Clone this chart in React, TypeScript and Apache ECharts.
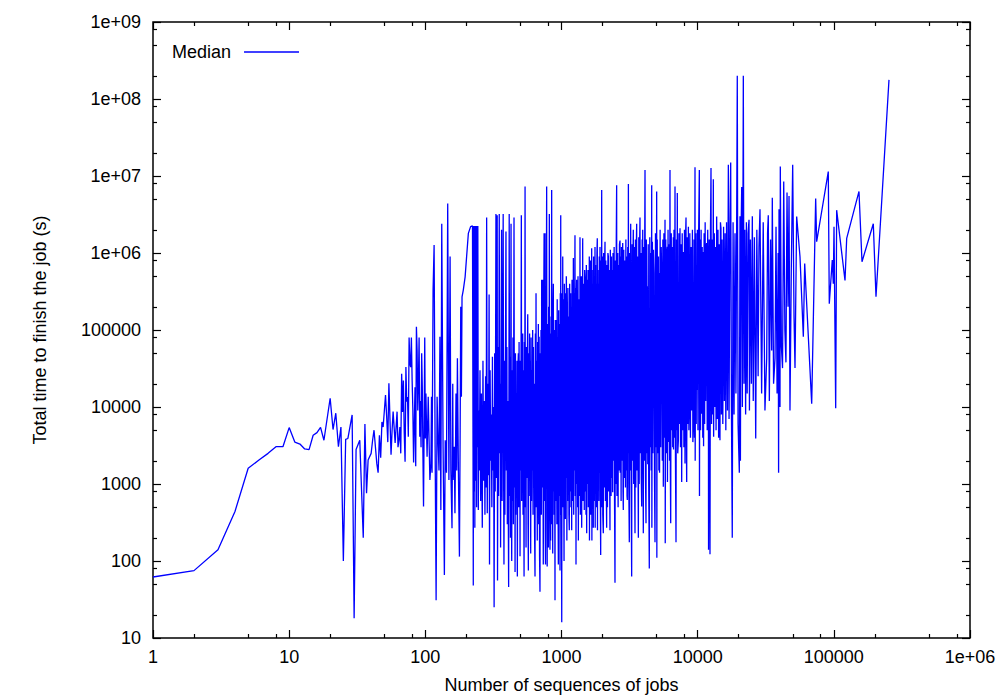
import React, { useEffect, useRef } from 'react';
import * as echarts from 'echarts';

const seriesName = 'Median';
const xAxisTitle = 'Number of sequences of jobs';
const yAxisTitle = 'Total time to finish the job (s)';

const xMajorTicks = [1, 10, 100, 1000, 10000, 100000, 1000000];
const xTickLabels = ['1', '10', '100', '1000', '10000', '100000', '1e+06'];
const yMajorTicks = [10, 100, 1000, 10000, 100000, 1000000, 10000000, 100000000, 1000000000];
const yTickLabels = ['10', '100', '1000', '10000', '100000', '1e+06', '1e+07', '1e+08', '1e+09'];
const minorFactors = [2, 5, 8];

// [number of sequences, median total time (s)]
const segA: number[][] = [
  [1, 62], [2, 75], [3, 140], [4, 440], [5, 1600], [6, 2050], [7, 2500], [8, 3050], [9, 3050], [10, 5400],
  [11, 3500], [12, 3300], [13, 2850], [14, 2800], [15, 4300], [16, 4650], [17, 5450], [18, 3700], [20, 13000],
  [21, 5100], [22, 8300], [23, 3050], [24, 5500], [25, 100], [26, 3800], [27, 3900], [29, 7900], [30, 18],
  [31, 2800], [33, 3700], [35, 200], [36, 6000], [37, 760], [38, 2050], [40, 2500], [41, 3700], [42, 5000],
  [44, 1850], [45, 1400], [46, 4300], [47, 2200], [48, 6400], [49, 5500], [51, 14300], [52, 7500], [53, 3500],
  [54, 20300], [56, 2400], [57, 5000], [58, 8700], [60, 3400], [62, 8700], [63, 3000], [64, 3700], [65, 5500],
  [66, 2500], [67, 27000], [68, 8600], [69, 22000], [70, 4600], [71, 1950], [72, 33000], [73, 11700], [74, 13500],
  [75, 4100], [76, 80000], [77, 37000], [78, 33000], [79, 80000], [80, 22000], [81, 9000], [82, 1900], [83, 6000],
  [84, 18000], [85, 1700], [86, 110000], [87, 55000], [88, 9000], [89, 22000], [90, 80000], [91, 4100], [92, 12000],
  [93, 3000], [94, 50000], [95, 18000], [96, 2500], [97, 510], [98, 6000], [99, 80000], [100, 3900],
];

const segB: number[][] = [
  [101, 15000], [103, 2260], [105, 13600], [107, 2500], [108, 1130], [110, 1850], [111, 13600], [112, 1400],
  [114, 330000], [116, 1270000], [118, 3000], [120, 31], [122, 13600], [124, 3700], [126, 1500], [128, 82000],
  [130, 460], [132, 2400000], [135, 3050], [138, 66], [140, 3700], [143, 1400], [146, 4400000], [149, 1130],
  [152, 900000], [154, 1500], [157, 266], [159, 20000], [160, 1130], [163, 3050], [165, 417], [168, 15000],
  [170, 1500], [172, 43000], [175, 1400], [178, 114], [180, 3500], [182, 200000], [184, 13600], [186, 270000],
  [190, 330000], [196, 490000], [201, 900000], [207, 1800000], [215, 2200000], [222, 2250000], [224, 3000],
  [225, 48], [226, 2250000], [227, 1500], [228, 2250000], [229, 800], [230, 2250000], [231, 270], [232, 2250000],
  [234, 2000], [235, 2250000], [236, 1100], [237, 2250000], [238, 500], [240, 2250000], [241, 3000],
];

const segC1: number[][] = [
  [243, 2250000], [245, 460], [247, 9000], [249, 1500], [252, 30000], [255, 600], [258, 15000], [262, 270],
  [265, 40000], [268, 1100], [271, 12000], [274, 400], [277, 25000], [280, 900], [282, 2900000], [285, 417],
  [288, 20000], [291, 1300], [294, 290000], [296, 90], [299, 30000], [302, 2000], [305, 8000], [308, 500],
  [311, 45000], [314, 1500], [317, 10000], [320, 25], [323, 50000], [326, 800], [330, 3200000], [333, 1200],
  [337, 3100000], [339, 56], [342, 60000], [345, 700], [349, 3200000], [352, 2500], [355, 20000], [357, 150],
  [360, 35000], [363, 2000000], [366, 600], [369, 15000], [373, 3200000], [376, 1000], [378, 90], [381, 40000],
  [384, 400], [387, 25000], [391, 1900000], [394, 1500], [397, 60000], [400, 300], [403, 12000], [406, 800],
  [409, 46], [413, 3200000], [416, 700], [419, 45000], [422, 200], [426, 2400000], [428, 1200], [431, 100],
  [434, 30000], [437, 600], [440, 80000], [443, 300], [448, 2900000], [451, 900], [454, 20000], [456, 72],
  [459, 50000], [462, 400], [465, 15000], [468, 700], [471, 40000], [474, 63], [478, 30000], [482, 50000],
  [485, 500], [488, 70000], [491, 1500], [494, 25000], [496, 115], [499, 40000],
];

const segC2: number[][] = [
  [503, 1500], [507, 3100000], [510, 600], [513, 50000], [516, 2000], [519, 90000], [522, 400], [525, 30000],
  [528, 1000], [531, 63], [534, 70000], [537, 800], [540, 7300000], [543, 500], [546, 40000], [549, 150],
  [552, 60000], [556, 1200], [560, 25000], [565, 160000], [568, 300], [571, 75], [575, 50000], [579, 700],
  [583, 90000], [587, 2000], [590, 40000], [594, 125], [598, 80000], [602, 600], [606, 30000], [610, 1500],
  [614, 100000], [618, 400], [622, 60000], [626, 900], [630, 20000], [634, 250], [639, 63], [643, 90000],
  [647, 1000], [650, 300000], [654, 500], [658, 40000], [661, 1800], [664, 185], [668, 70000], [672, 700],
  [676, 120000], [680, 300], [685, 82000], [690, 115], [695, 40], [699, 50000], [703, 1500], [707, 100000],
  [711, 400], [715, 450000], [719, 900], [723, 60000], [728, 450000], [731, 2000], [735, 90], [740, 150000],
  [745, 1800000], [749, 600], [753, 80000], [757, 1800000], [760, 250], [763, 90], [767, 40000], [771, 1200],
  [774, 200000], [778, 7300000], [782, 400], [785, 85], [789, 120000], [793, 800], [797, 50000], [801, 150],
  [805, 200000], [810, 1500], [814, 3200000], [818, 500], [823, 140], [827, 90000], [830, 700], [833, 185],
  [838, 150000], [842, 1000], [847, 6600000], [851, 300], [856, 60000], [862, 125], [866, 200000], [871, 400000],
  [875, 800], [880, 100000], [884, 400], [889, 50000], [892, 1500], [896, 31], [900, 135000], [905, 600],
  [911, 135000], [915, 2000], [920, 70000], [925, 300], [930, 250000], [935, 1200], [940, 80000], [944, 500],
  [948, 90], [953, 180000], [957, 700], [962, 120000], [966, 1500], [970, 60000], [975, 75], [980, 300000],
  [984, 400], [987, 3100000], [991, 1000], [995, 200000], [999, 600],
];

const segC3: number[][] = [
  [1004, 16], [1010, 300000], [1016, 800], [1021, 900000], [1027, 500], [1033, 250000], [1038, 1500], [1044, 100],
  [1050, 400000], [1055, 700], [1061, 145000], [1067, 350], [1073, 300000], [1079, 1200], [1085, 500000],
  [1092, 170000], [1095, 185], [1101, 200000], [1108, 600], [1115, 350000], [1121, 900], [1128, 150000],
  [1134, 400], [1141, 250], [1148, 400000], [1154, 55000], [1160, 800], [1167, 300000], [1174, 500],
  [1181, 200000], [1188, 250], [1195, 450000], [1202, 1000], [1209, 250000], [1215, 600], [1222, 860000],
  [1229, 400], [1236, 300000], [1243, 1500], [1250, 200000], [1256, 1700000], [1263, 700], [1270, 350000],
  [1278, 90], [1285, 250000], [1292, 450000], [1299, 1000], [1307, 300000], [1314, 500], [1322, 500000],
  [1330, 185], [1338, 250000], [1345, 800], [1352, 150000], [1360, 700], [1367, 1600000], [1375, 400],
  [1383, 300000], [1391, 1200], [1399, 500000], [1407, 270], [1415, 350000], [1423, 900], [1431, 1550000],
  [1439, 600], [1447, 400000], [1455, 1500], [1463, 250000], [1470, 460], [1479, 600000], [1488, 490000],
  [1496, 800], [1505, 300000], [1513, 400], [1522, 700000], [1531, 230], [1539, 350000], [1547, 450000],
  [1556, 1000], [1565, 600000], [1574, 500], [1583, 300000], [1591, 1200], [1600, 900000], [1605, 185],
  [1614, 500000], [1623, 700], [1632, 800000], [1641, 400], [1650, 350000], [1659, 1500], [1666, 1150000],
  [1672, 185], [1681, 600000], [1690, 900], [1700, 400000], [1712, 270], [1721, 900000], [1731, 600],
  [1741, 500000], [1751, 1300], [1762, 1200000], [1768, 270], [1778, 700000], [1788, 800], [1799, 400000],
  [1810, 500], [1821, 1000000], [1832, 1550000], [1838, 250], [1849, 600000], [1860, 1000], [1871, 400000],
  [1882, 600], [1894, 900000], [1905, 1400], [1917, 1200000], [1928, 700], [1940, 120], [1952, 800000],
  [1962, 1000], [1973, 6600000], [1985, 500],
];

const segC4: number[][] = [
  [1997, 900000], [2010, 400], [2028, 230], [2040, 1000000], [2055, 900], [2070, 500000], [2087, 1400000],
  [2100, 600], [2115, 800000], [2130, 1200], [2146, 270], [2160, 700000], [2175, 500], [2192, 1000000],
  [2209, 900000], [2225, 800], [2240, 600000], [2255, 1500], [2270, 250], [2284, 1100000], [2297, 270000],
  [2312, 700], [2328, 900000], [2344, 1200], [2360, 600000], [2376, 780], [2390, 1000000], [2401, 490000],
  [2418, 2000], [2435, 1200000], [2452, 600], [2471, 52], [2490, 800000], [2508, 1000], [2525, 1500000],
  [2541, 7600000], [2555, 700], [2569, 920], [2588, 1000000], [2605, 500], [2625, 700000], [2645, 1500],
  [2665, 1300000], [2689, 1450000], [2700, 1400], [2720, 900000], [2740, 600], [2760, 1200000], [2780, 2000],
  [2800, 700000], [2815, 1350000], [2830, 800], [2844, 460], [2865, 1100000], [2885, 1200], [2905, 800000],
  [2927, 450000], [2948, 900], [2970, 1500000], [2990, 1500], [3012, 900000], [3030, 700], [3043, 620],
  [3065, 1200000], [3085, 2500], [3099, 7900000], [3120, 1000], [3148, 175], [3170, 1000000], [3195, 1500],
  [3222, 2400000], [3250, 800], [3276, 63], [3300, 1300000], [3325, 2000], [3350, 900000], [3368, 2000000],
  [3390, 1000], [3415, 1200000], [3440, 1800], [3466, 230], [3490, 1500000], [3515, 900], [3540, 1000000],
  [3565, 2400000], [3590, 1500], [3615, 900000], [3645, 2000], [3669, 200], [3695, 1600000], [3720, 1000],
  [3745, 1200000], [3771, 2900000], [3800, 2500], [3830, 1000000], [3855, 1200], [3880, 510], [3910, 1500000],
  [3930, 3000], [3948, 2000000], [3970, 1500], [3989, 230], [4020, 1200000], [4050, 2000], [4080, 900000],
  [4105, 12000000], [4140, 1200], [4175, 310], [4200, 1500000], [4235, 2500], [4267, 370000], [4300, 1800],
  [4335, 1300000], [4370, 1000], [4414, 80], [4450, 1600000], [4490, 3000], [4525, 1000000], [4560, 1500],
  [4596, 7600000], [4610, 270], [4650, 1400000], [4690, 2500], [4735, 1100000], [4780, 550000], [4820, 1200],
  [4861, 175], [4900, 1800000], [4950, 3000], [5000, 6300000], [5015, 110],
];

const segC5: number[][] = [
  [5050, 1500000], [5100, 2500], [5150, 900000], [5190, 1500], [5231, 550000], [5250, 1400], [5300, 2000000],
  [5350, 3000], [5400, 1200000], [5443, 520000], [5500, 2000], [5550, 1500000], [5594, 920], [5650, 1800000],
  [5700, 4000], [5757, 2700000], [5780, 170], [5830, 1500000], [5880, 2500], [5935, 1000000], [5985, 1200000],
  [6000, 1060], [6060, 2000000], [6110, 3500], [6160, 1300000], [6210, 2000], [6263, 12000000], [6300, 1500],
  [6338, 310], [6400, 1800000], [6450, 5000], [6500, 1200000], [6560, 3000], [6624, 1600000], [6650, 2800],
  [6700, 2000000], [6760, 4000], [6817, 7300000], [6870, 2000], [6934, 175], [6990, 1500000], [7040, 5000],
  [7087, 6000000], [7140, 2500], [7217, 3700], [7280, 1800000], [7340, 6000], [7418, 2100000], [7480, 3000],
  [7550, 1300000], [7633, 1060], [7700, 1800000], [7770, 5000], [7846, 1030000], [7920, 3000], [8000, 2000000],
  [8075, 1850], [8140, 1500000], [8212, 2900000], [8260, 4000], [8305, 1060], [8380, 1600000], [8460, 6000],
  [8548, 2200000], [8620, 5000], [8683, 12000], [8760, 1800000], [8850, 4000], [8950, 1200000], [9038, 860000],
  [9060, 9000], [9150, 2000000], [9220, 3500], [9290, 5600], [9400, 1500000], [9480, 4000], [9560, 13000000],
  [9590, 2000], [9700, 1800000], [9760, 6000], [9833, 660000], [9860, 16600], [9950, 2000000], [10050, 5000],
  [10150, 1500000], [10287, 12000000], [10310, 700],
];

const segC6: number[][] = [
  [10400, 1500000], [10500, 5000], [10600, 2000000], [10702, 8200], [10800, 1200000], [10900, 4000],
  [11000, 1030000], [11050, 3100], [11150, 1800000], [11250, 6000], [11350, 2500000], [11454, 12000],
  [11550, 1200000], [11644, 1350000], [11750, 5000], [11850, 2000000], [11984, 180000], [12020, 140],
  [12150, 1500000], [12320, 122], [12420, 2000000], [12530, 12700000], [12650, 6000], [12800, 1500000],
  [12900, 8000], [13030, 9100000], [13100, 4100], [13250, 1800000], [13400, 10000], [13550, 1200000],
  [13650, 5000], [13790, 2970000], [13950, 7000], [14100, 2000000], [14250, 4000], [14400, 1300000],
  [14580, 3700], [14700, 2500000], [14830, 2100000], [14950, 8000], [15100, 1500000], [15300, 6000],
  [15500, 2200000], [15700, 12000], [15900, 1800000], [16100, 5000], [16300, 2500000], [16550, 9000],
  [16800, 14000000], [17000, 7000], [17250, 2000000], [17480, 15000000], [17700, 10000], [17950, 200],
  [18200, 2500000], [18500, 8000], [18800, 1800000], [19100, 15000], [19540, 200000000], [19800, 6000],
  [20230, 1400], [20460, 3000000], [20600, 2000], [20800, 1500000], [21060, 7200000], [21300, 10000],
  [21640, 200000000], [21900, 20000], [22200, 2000000], [22500, 8000], [22800, 2500000], [23100, 15000],
  [23450, 1800000], [23830, 2700000], [24000, 9000], [24400, 1500000], [24800, 20000], [25200, 3000000],
  [25600, 12000], [26100, 1600000], [26690, 3900], [27200, 2000000], [27800, 25000], [28200, 1200000],
  [28690, 3700000],
];

const segC7: number[][] = [
  [29500, 15000], [30300, 2500000], [31200, 9000], [32130, 43000], [32600, 1800000], [33010, 3100000],
  [33600, 12000], [34300, 1500000], [34960, 54000], [35330, 5200000], [36100, 20000], [36990, 43000],
  [37620, 2200000], [38300, 15000], [39000, 1000000], [39300, 1400], [39580, 3700000], [40240, 10000],
  [40450, 13300000], [41200, 60000], [42000, 32000], [42850, 8500000], [43700, 100000], [44500, 38000],
  [45310, 6100000], [46100, 200000], [46880, 5500000], [47640, 9000], [48700, 600000], [49870, 14000000],
  [51000, 150000], [51860, 32000], [53340, 2970000],
];

const segD: number[][] = [
  [56430, 895000], [59700, 82000], [61100, 730000], [62450, 330000], [68770, 11000], [73560, 5100000],
  [74810, 1400000], [91050, 11400000], [92600, 220000], [97400, 810000], [99100, 400000], [100300, 2200000],
  [103200, 9600], [104900, 3600000], [120800, 440000], [124300, 1550000], [153000, 6300000], [161000, 770000],
  [194900, 2400000], [204000, 270000], [254100, 177000000],
];

const medianData = [...segA, ...segB, ...segC1, ...segC2, ...segC3, ...segC4, ...segC5, ...segC6, ...segC7, ...segD];

const minorOf = (majors: number[]) => {
  const out: number[] = [];
  majors.slice(0, -1).forEach((m) => minorFactors.forEach((f) => out.push(m * f)));
  return out;
};

const FONT = 'Liberation Sans, Arial, Helvetica, sans-serif';

export default function App() {
  const ref = useRef<HTMLDivElement>(null);
  useEffect(() => {
    if (!ref.current) return;
    const chart = echarts.init(ref.current, undefined, { renderer: 'svg' });
    const xMinor = minorOf(xMajorTicks);
    const yMinor = minorOf(yMajorTicks);
    const baseX = {
      type: 'log' as const,
      logBase: 10,
      min: 1,
      max: 1000000,
      gridIndex: 0,
      splitLine: { show: false },
      axisLine: { show: false },
      name: '',
    };
    const baseY = {
      type: 'log' as const,
      logBase: 10,
      min: 10,
      max: 1000000000,
      gridIndex: 0,
      splitLine: { show: false },
      axisLine: { show: false },
      name: '',
    };
    const tickStyle = { color: '#000', width: 1.2 };
    const option: any = {
      animation: false,
      backgroundColor: '#fff',
      grid: {
        left: 153,
        right: 30,
        top: 22,
        bottom: 62,
        show: true,
        borderColor: '#000',
        borderWidth: 1.5,
        containLabel: false,
        outerBoundsMode: 'none',
      },
      legend: {
        show: true,
        left: 172,
        top: 43,
        padding: 0,
        align: 'right',
        icon: 'rect',
        itemWidth: 55,
        itemHeight: 1.6,
        textStyle: { fontFamily: FONT, fontSize: 18, color: '#000', padding: [0, 8, 0, 0] },
        data: [seriesName],
      },
      xAxis: [
        {
          ...baseX,
          position: 'bottom',
          name: xAxisTitle,
          nameLocation: 'middle',
          nameGap: 38,
          nameTextStyle: { fontFamily: FONT, fontSize: 18, color: '#000' },
          axisTick: { show: true, inside: true, length: 8, lineStyle: tickStyle, customValues: xMajorTicks },
          axisLabel: {
            show: true,
            margin: 10,
            fontFamily: FONT,
            fontSize: 18,
            color: '#000',
            customValues: xMajorTicks,
            formatter: (v: number) => {
              const i = xMajorTicks.findIndex((t) => Math.abs(t - v) / t < 1e-6);
              return i >= 0 ? xTickLabels[i] : '';
            },
          },
        },
        {
          ...baseX,
          position: 'bottom',
          axisTick: { show: true, inside: true, length: 4, lineStyle: tickStyle, customValues: xMinor },
          axisLabel: { show: false },
        },
        {
          ...baseX,
          position: 'top',
          axisTick: { show: true, inside: true, length: 8, lineStyle: tickStyle, customValues: xMajorTicks },
          axisLabel: { show: false },
        },
        {
          ...baseX,
          position: 'top',
          axisTick: { show: true, inside: true, length: 4, lineStyle: tickStyle, customValues: xMinor },
          axisLabel: { show: false },
        },
      ],
      yAxis: [
        {
          ...baseY,
          position: 'left',
          name: yAxisTitle,
          nameLocation: 'middle',
          nameGap: 104,
          nameRotate: 90,
          nameTextStyle: { fontFamily: FONT, fontSize: 18, color: '#000' },
          axisTick: { show: true, inside: true, length: 8, lineStyle: tickStyle, customValues: yMajorTicks },
          axisLabel: {
            show: true,
            margin: 12,
            fontFamily: FONT,
            fontSize: 18,
            color: '#000',
            customValues: yMajorTicks,
            formatter: (v: number) => {
              const i = yMajorTicks.findIndex((t) => Math.abs(t - v) / t < 1e-6);
              return i >= 0 ? yTickLabels[i] : '';
            },
          },
        },
        {
          ...baseY,
          position: 'left',
          axisTick: { show: true, inside: true, length: 4, lineStyle: tickStyle, customValues: yMinor },
          axisLabel: { show: false },
        },
        {
          ...baseY,
          position: 'right',
          axisTick: { show: true, inside: true, length: 8, lineStyle: tickStyle, customValues: yMajorTicks },
          axisLabel: { show: false },
        },
        {
          ...baseY,
          position: 'right',
          axisTick: { show: true, inside: true, length: 4, lineStyle: tickStyle, customValues: yMinor },
          axisLabel: { show: false },
        },
      ],
      series: [
        {
          name: seriesName,
          type: 'line',
          xAxisIndex: 0,
          yAxisIndex: 0,
          data: medianData,
          showSymbol: false,
          symbol: 'none',
          color: '#0000ff',
          lineStyle: { color: '#0000ff', width: 1.3 },
          clip: true,
        },
      ],
    };
    chart.setOption(option);
    return () => chart.dispose();
  }, []);
  return (
    <div
      ref={ref}
      style={{ position: 'fixed', left: 0, top: 0, width: 1000, height: 700, background: '#fff' }}
    />
  );
}
